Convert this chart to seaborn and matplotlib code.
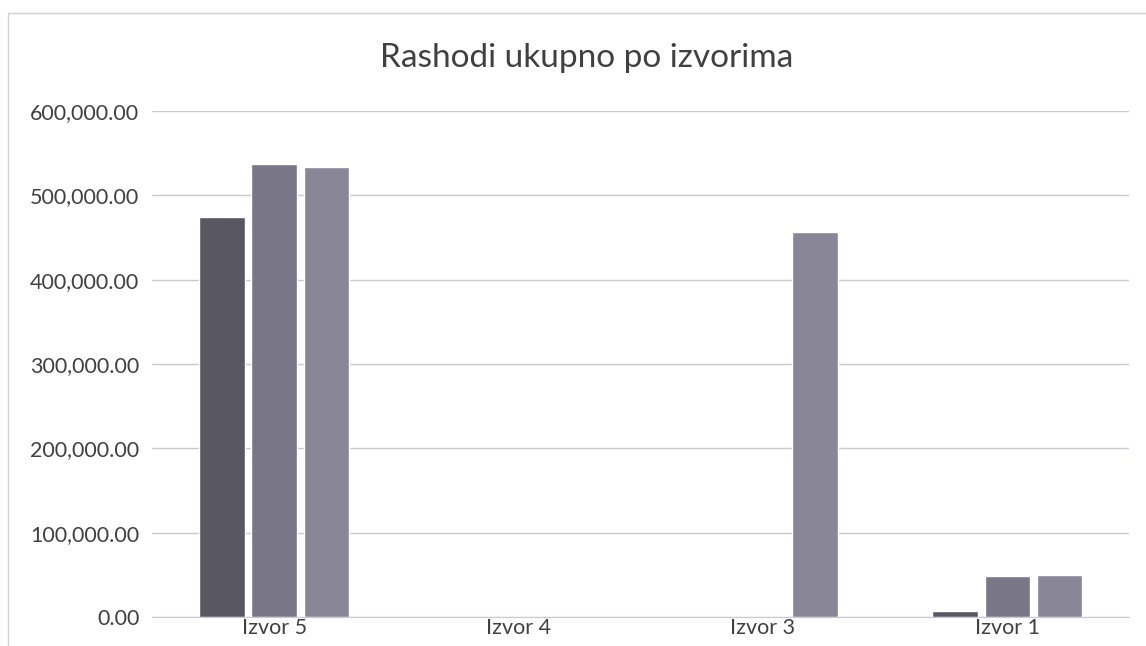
import pandas as pd
import seaborn as sns
import matplotlib.pyplot as plt
from matplotlib.ticker import FuncFormatter, MultipleLocator
from matplotlib.patches import Rectangle

izvori = ['Izvor 5', 'Izvor 4', 'Izvor 3', 'Izvor 1']
serija_1 = [474500, 0, 0, 7100]
serija_2 = [537300, 0, 0, 48600]
serija_3 = [533800, 0, 456700, 49800]
serije = ['Serija 1', 'Serija 2', 'Serija 3']
boje = ['#575564', '#77748a', '#87849a']

data = pd.DataFrame({
    'Izvor': izvori * 3,
    'Serija': [s for s in serije for _ in izvori],
    'Iznos': serija_1 + serija_2 + serija_3,
})

sns.set_style('white')
plt.rcParams['font.family'] = ['Lato', 'DejaVu Sans']

fig = plt.figure(figsize=(11.46, 6.46), dpi=100)
ax = fig.add_axes([0.1326, 0.0449, 0.853, 0.7833])

sns.barplot(data=data, x='Izvor', y='Iznos', hue='Serija', order=izvori,
            hue_order=serije, palette=boje, width=0.64, gap=0.13,
            legend=False, ax=ax)

ax.set_ylim(0, 600000)
ax.yaxis.set_major_locator(MultipleLocator(100000))
ax.yaxis.set_major_formatter(FuncFormatter(lambda v, p: f'{v:,.2f}'))
ax.grid(axis='y', color='#c9c8d6', linewidth=1)
ax.set_axisbelow(True)
for s in ['top', 'right', 'left']:
    ax.spines[s].set_visible(False)
ax.spines['bottom'].set_color('#c9c8d6')
ax.tick_params(axis='both', length=0, colors='#404040')
ax.tick_params(axis='y', labelsize=15.5, pad=9)
ax.tick_params(axis='x', labelsize=15.5, pad=1)
ax.set_xlabel('')
ax.set_ylabel('')

fig.text(0.512, 0.91, 'Rashodi ukupno po izvorima', ha='center', va='center',
         fontsize=24, color='#404040')
fig.patches.append(Rectangle((0.007, -0.05), 1.1, 1.03, transform=fig.transFigure,
                             fill=False, edgecolor='#d0d0d8', linewidth=1))

fig.savefig('out.png', dpi=100)
